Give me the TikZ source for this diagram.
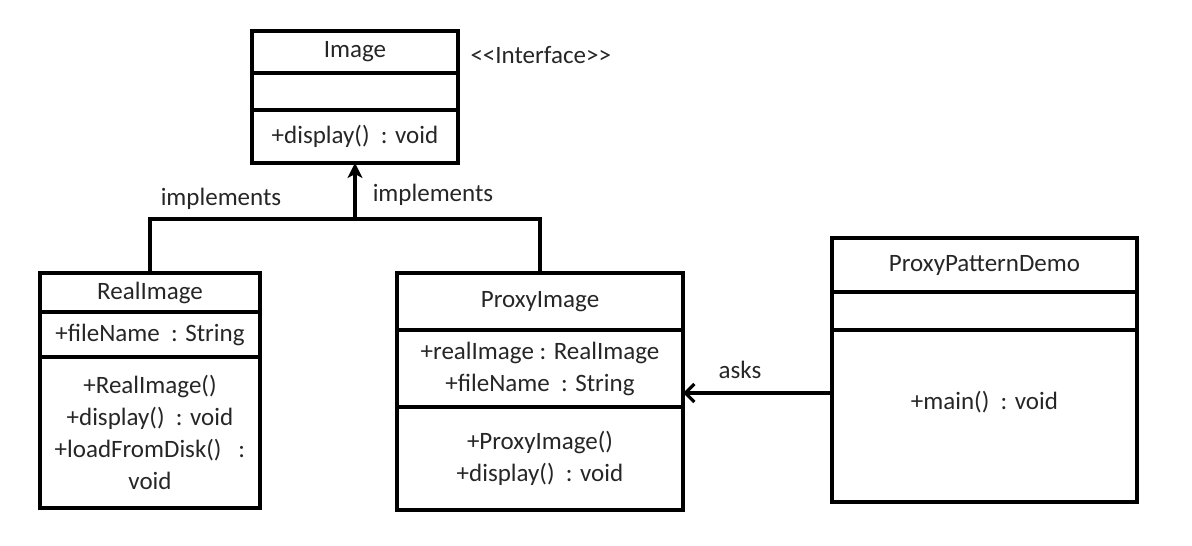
\documentclass[tikz,border=0pt]{standalone}
\usepackage{fontspec}
\setmainfont{Carlito}
\usetikzlibrary{positioning,arrows.meta}

\tikzset{
  part/.style={draw, line width=3.2pt, outer sep=0pt, inner sep=0pt, align=center,
    font=\fontsize{25}{32}\selectfont, text=black!85},
  lbl/.style={font=\fontsize{25}{30}\selectfont, text=black!85},
  link/.style={line width=3.2pt},
}

\begin{document}
\begin{tikzpicture}[x=1pt,y=-1pt]
    \useasboundingbox (0,0) rectangle (1192,546);

    % Image interface
    \node[part, anchor=north west, minimum width=206, minimum height=42] (img) at (252,31) {Image};
    \node[part, below=0pt of img, minimum width=206, minimum height=37] (imgattr) {};
    \node[part, below=0pt of imgattr, minimum width=206, minimum height=53] (imgops) {+display()\ \ : void};
    \node[lbl, anchor=west] (stereo) at (467,55) {{<}{<}Interface{>}{>}};

    % RealImage
    \node[part, anchor=north west, minimum width=220, minimum height=39] (real) at (40,273) {RealImage};
    \node[part, below=0pt of real, minimum width=220, minimum height=45] (realattr) {+fileName\ \ : String};
    \node[part, below=0pt of realattr, minimum width=220, minimum height=151] (realops)
        {+RealImage()\\+display()\ \ : void\\+loadFromDisk()\ \ \ :\\void};

    % ProxyImage
    \node[part, anchor=north west, minimum width=286, minimum height=57] (proxy) at (397,273) {ProxyImage};
    \node[part, below=0pt of proxy, minimum width=286, minimum height=77] (proxyattr)
        {+realImage : RealImage\\+fileName\ \ : String};
    \node[part, below=0pt of proxyattr, minimum width=286, minimum height=103] (proxyops)
        {+ProxyImage()\\+display()\ \ : void};

    % ProxyPatternDemo
    \node[part, anchor=north west, minimum width=305, minimum height=54] (demo) at (832,238) {ProxyPatternDemo};
    \node[part, below=0pt of demo, minimum width=305, minimum height=38] (demoattr) {};
    \node[part, below=0pt of demoattr, minimum width=305, minimum height=172, text depth=32pt] (demoops)
        {+main()\ \ : void};

    % implements
    \coordinate (hub) at (imgops.south |- 0,219);
    \draw[link] (real.north) |- (hub) -| (proxy.north);
    \draw[link, -{Stealth[length=15pt, width=15pt, inset=4pt]}] (hub) -- (imgops.south);
    \node[lbl] (implleft) at (221,199) {implements};
    \node[lbl] (implright) at (433,195) {implements};

    % asks
    \coordinate (askfrom) at ([yshift=23pt]demoops.west);
    \draw[link, -{Straight Barb[length=9pt, width=18pt]}] (askfrom) -- (askfrom -| proxyops.east);
    \node[lbl] (asks) at (740,370) {asks};

\end{tikzpicture}
\end{document}
